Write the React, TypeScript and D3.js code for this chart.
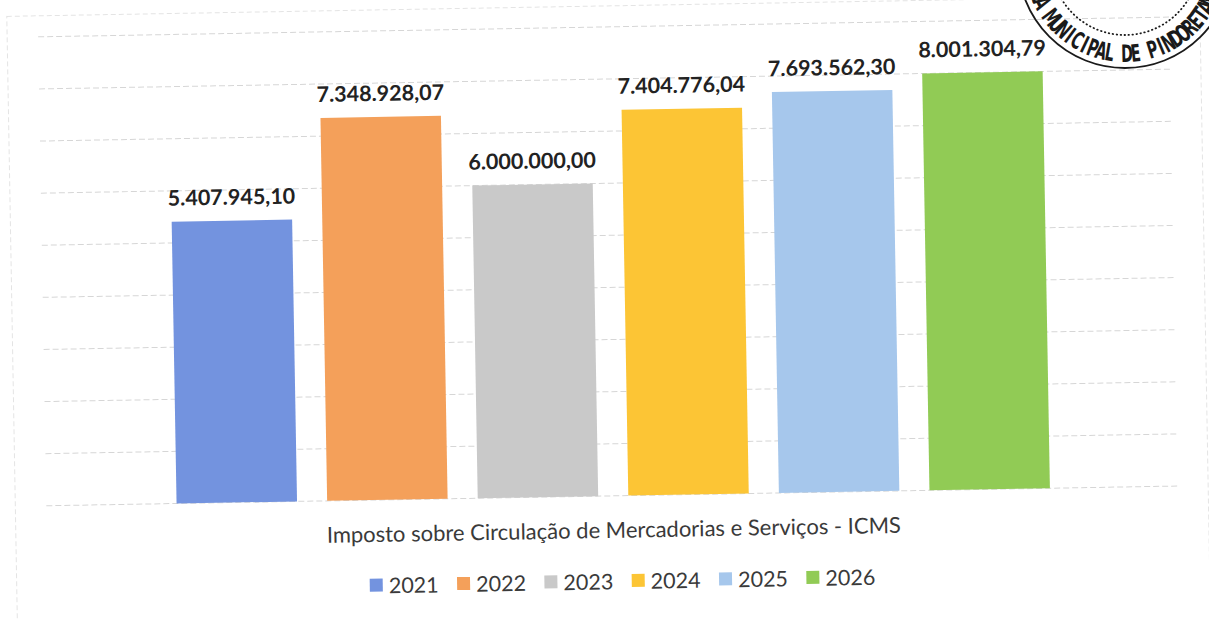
import React from "react";
import * as d3 from "d3";

const category = "Imposto sobre Circulação de Mercadorias e Serviços - ICMS";
const years = ["2021", "2022", "2023", "2024", "2025", "2026"];
const values = [5407945.1, 7348928.07, 6000000.0, 7404776.04, 7693562.3, 8001304.79];
const colors = ["#7393df", "#f4a05a", "#c9c9c9", "#fcc535", "#a6c7ec", "#91cb55"];
const yTicks = [0, 1e6, 2e6, 3e6, 4e6, 5e6, 6e6, 7e6, 8e6, 9e6];
const stampText = "CÂMARA MUNICIPAL DE PINDORETAMA";

const W = 1209;
const H = 620;

const fmt = (v: number) => {
  const [i, d] = v.toFixed(2).split(".");
  return i.replace(/\B(?=(\d{3})+(?!\d))/g, ".") + "," + d;
};

export default function App() {
  const plotL = 43;
  const plotR = 1177;
  const y = d3.scaleLinear().domain([0, 9e6]).range([496, 27]);
  const xCat = d3.scaleBand().domain([category]).range([plotL, plotR]).paddingOuter(0.1275);
  const cs = xCat(category) as number;
  const x = d3
    .scaleBand()
    .domain(years)
    .range([cs, cs + xCat.bandwidth()])
    .paddingInner(0.2)
    .paddingOuter(0.1);
  const legendX = d3.scaleBand().domain(years).range([365, 889]);

  // stamp geometry
  const scx = 1125;
  const scy = -39;
  const rOuter = 107;
  const rText = 101;
  const step = 5.37;
  const aStart = 182.8;
  const chars = Array.from(stampText).map((ch, i) => {
    const a = aStart - (i + 0.5) * step;
    const r = (a * Math.PI) / 180;
    return { ch, a, px: scx + rText * Math.cos(r), py: scy + rText * Math.sin(r) };
  });

  return (
    <svg
      width={W}
      height={H}
      viewBox={`0 0 ${W} ${H}`}
      style={{ position: "absolute", left: 0, top: 0, background: "#fff" }}
    >
      <g transform="rotate(-1 604 310)">
        <rect x={12} y={6} width={1193} height={640} fill="none" stroke="#e4e4e4" strokeWidth={1} strokeDasharray="5 3" />
        {yTicks.map((t) => (
          <line
            key={t}
            x1={plotL}
            x2={plotR}
            y1={y(t)}
            y2={y(t)}
            stroke="#d6d6d6"
            strokeWidth={1}
            strokeDasharray="6 3"
          />
        ))}
        {years.map((yr, i) => (
          <rect
            key={yr}
            x={x(yr)}
            y={y(values[i])}
            width={x.bandwidth()}
            height={y(0) - y(values[i])}
            fill={colors[i]}
          />
        ))}
        {years.map((yr, i) => (
          <text
            key={yr}
            x={(x(yr) as number) + x.bandwidth() / 2}
            y={y(values[i]) - 16}
            textAnchor="middle"
            fontFamily="Lato, 'Noto Sans', sans-serif"
            fontWeight={700}
            fontSize={21.5}
            fill="#222"
          >
            {fmt(values[i])}
          </text>
        ))}
        <text
          x={cs + xCat.bandwidth() / 2}
          y={538}
          textAnchor="middle"
          fontFamily="Lato, 'Noto Sans', sans-serif"
          fontSize={22}
          fill="#3a3a3a"
        >
          {category}
        </text>
        {years.map((yr, i) => (
          <g key={yr} transform={`translate(${legendX(yr)},581)`}>
            <rect x={0} y={-6.5} width={13} height={13} fill={colors[i]} />
            <text
              x={19}
              y={8.5}
              fontFamily="Lato, 'Noto Sans', sans-serif"
              fontSize={21.5}
              fill="#3a3a3a"
            >
              {yr}
            </text>
          </g>
        ))}
      </g>
      <g>
        <circle cx={scx} cy={scy} r={rOuter} fill="none" stroke="#1a1a1a" strokeWidth={1.8} />
        <circle
          cx={scx}
          cy={scy}
          r={74}
          fill="none"
          stroke="#1a1a1a"
          strokeWidth={1.8}
          strokeDasharray="0.5 3.5"
          strokeLinecap="round"
        />
        {chars.map((c, i) => (
          <text
            key={i}
            transform={`translate(${c.px},${c.py}) rotate(${c.a - 90}) scale(0.66,1)`}
            textAnchor="middle"
            fontFamily="'DejaVu Sans Condensed', 'DejaVu Sans', sans-serif"
            fontWeight={700}
            fontSize={24}
            fill="#1a1a1a"
          >
            {c.ch}
          </text>
        ))}
      </g>
    </svg>
  );
}
